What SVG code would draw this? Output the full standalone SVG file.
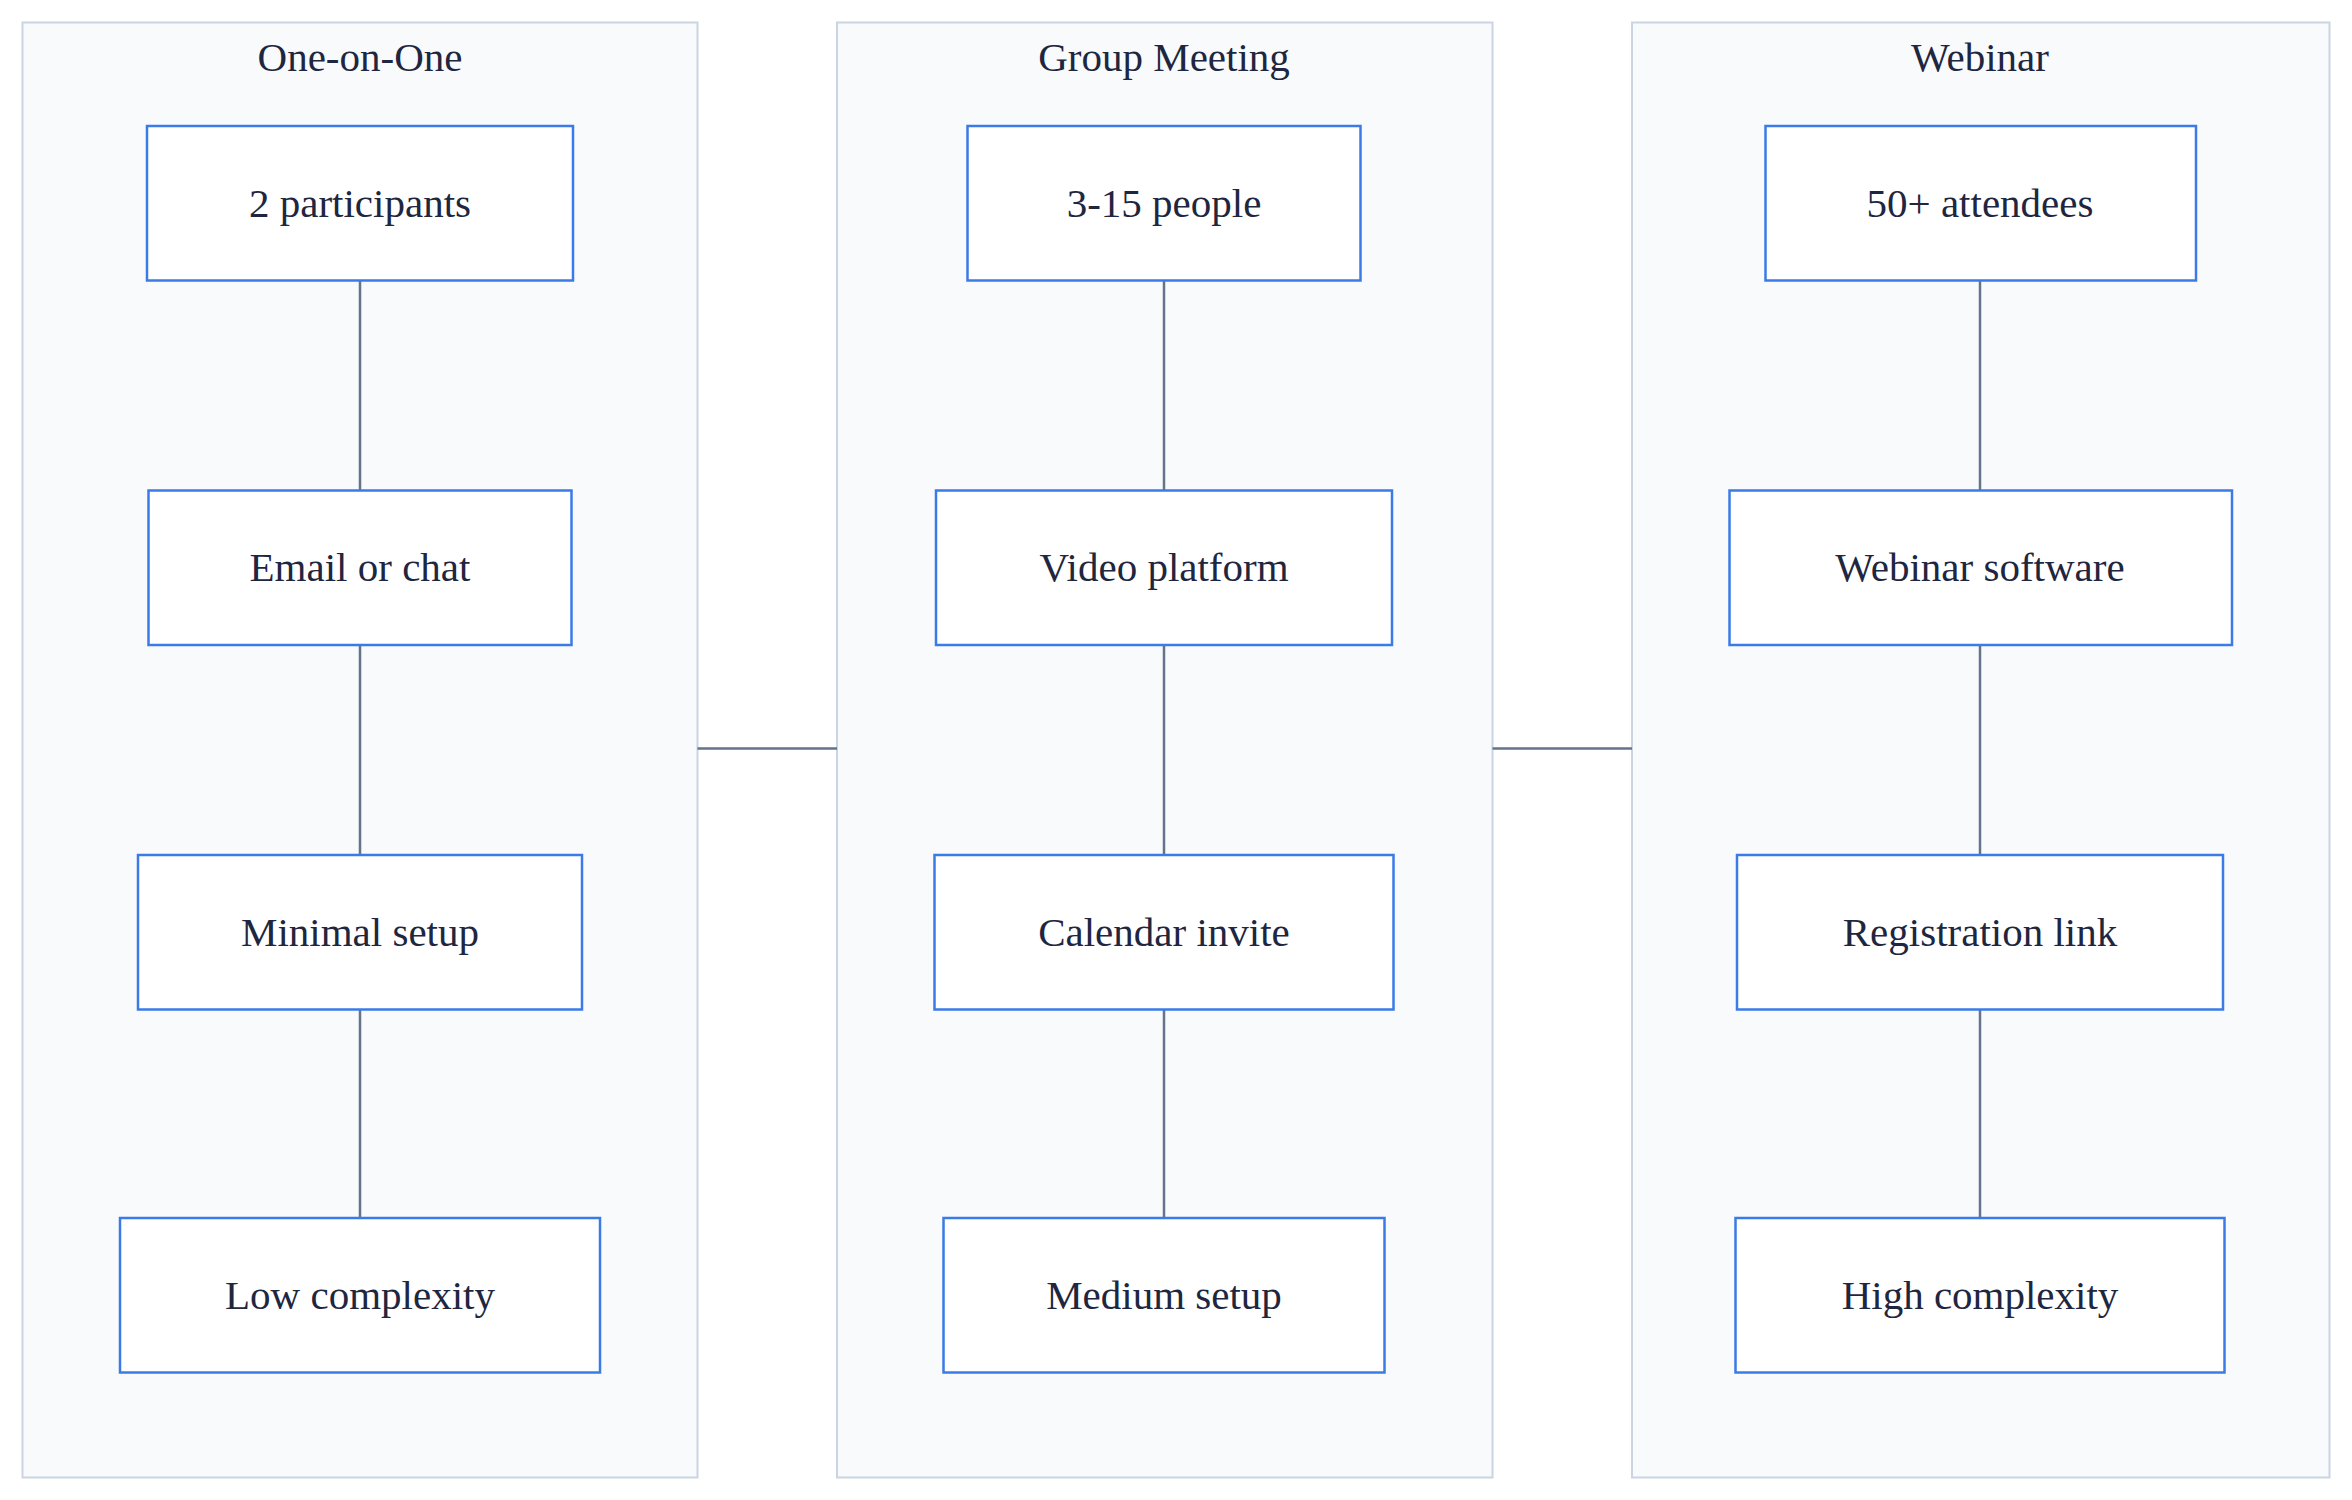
<svg xmlns="http://www.w3.org/2000/svg" width="2352" height="1500" viewBox="0 0 2352 1500">
<style>
.cl{fill:#f8fafc;stroke:#cbd5e1;stroke-width:2}
.n{fill:#ffffff;stroke:#3b7be8;stroke-width:2.5}
.t{font-family:"Liberation Serif",serif;font-size:41px;fill:#1e2640;text-anchor:middle;dominant-baseline:central}
.e{stroke:#64748b;stroke-width:2.5;fill:none}
</style>
<rect width="2352" height="1500" fill="#ffffff"/>
<g id="cluster-one"><rect class="cl" x="22.5" y="22.5" width="675" height="1455"/><text class="t" x="360" y="57">One-on-One</text></g>
<g id="cluster-group"><rect class="cl" x="837" y="22.5" width="655.5" height="1455"/><text class="t" x="1164" y="57">Group Meeting</text></g>
<g id="cluster-webinar"><rect class="cl" x="1632" y="22.5" width="697.5" height="1455"/><text class="t" x="1980" y="57">Webinar</text></g>
<g id="connectors">
<path class="e" d="M360 280.5V490.5M360 645V855M360 1009.5V1218"/>
<path class="e" d="M1164 280.5V490.5M1164 645V855M1164 1009.5V1218"/>
<path class="e" d="M1980 280.5V490.5M1980 645V855M1980 1009.5V1218"/>
<path class="e" d="M697.5 748.5H837M1492.5 748.5H1632"/>
</g>
<g id="n1"><rect class="n" x="147" y="126" width="426" height="154.5"/><text class="t" x="360" y="203">2 participants</text></g>
<g id="n2"><rect class="n" x="148.5" y="490.5" width="423" height="154.5"/><text class="t" x="360" y="567">Email or chat</text></g>
<g id="n3"><rect class="n" x="138" y="855" width="444" height="154.5"/><text class="t" x="360" y="932">Minimal setup</text></g>
<g id="n4"><rect class="n" x="120" y="1218" width="480" height="154.5"/><text class="t" x="360" y="1295">Low complexity</text></g>
<g id="n5"><rect class="n" x="967.5" y="126" width="393" height="154.5"/><text class="t" x="1164" y="203">3-15 people</text></g>
<g id="n6"><rect class="n" x="936" y="490.5" width="456" height="154.5"/><text class="t" x="1164" y="567">Video platform</text></g>
<g id="n7"><rect class="n" x="934.5" y="855" width="459" height="154.5"/><text class="t" x="1164" y="932">Calendar invite</text></g>
<g id="n8"><rect class="n" x="943.5" y="1218" width="441" height="154.5"/><text class="t" x="1164" y="1295">Medium setup</text></g>
<g id="n9"><rect class="n" x="1765.5" y="126" width="430.5" height="154.5"/><text class="t" x="1980" y="203">50+ attendees</text></g>
<g id="n10"><rect class="n" x="1729.5" y="490.5" width="502.5" height="154.5"/><text class="t" x="1980" y="567">Webinar software</text></g>
<g id="n11"><rect class="n" x="1737" y="855" width="486" height="154.5"/><text class="t" x="1980" y="932">Registration link</text></g>
<g id="n12"><rect class="n" x="1735.5" y="1218" width="489" height="154.5"/><text class="t" x="1980" y="1295">High complexity</text></g>
</svg>
